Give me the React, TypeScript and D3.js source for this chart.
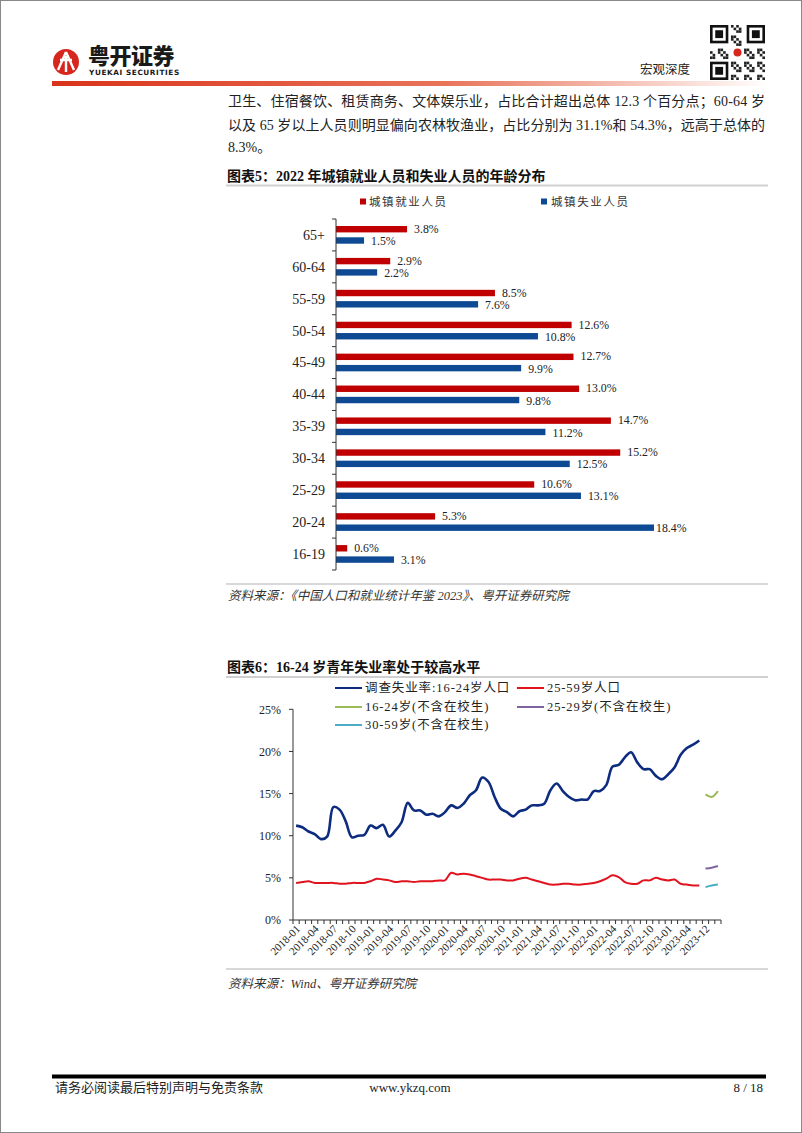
import * as d3 from 'd3';

// 图表5 数据
const ageGroups = ['65+', '60-64', '55-59', '50-54', '45-49', '40-44', '35-39', '30-34', '25-29', '20-24', '16-19'];
const employedShare = [3.8, 2.9, 8.5, 12.6, 12.7, 13.0, 14.7, 15.2, 10.6, 5.3, 0.6];
const unemployedShare = [1.5, 2.2, 7.6, 10.8, 9.9, 9.8, 11.2, 12.5, 13.1, 18.4, 3.1];

// 图表6 数据: 2018-01 ~ 2023-06, 然后 2023-12 ~ 2024-02
const months = [
  ...d3.utcMonth.range(new Date(Date.UTC(2018, 0, 1)), new Date(Date.UTC(2023, 6, 1))),
  ...d3.utcMonth.range(new Date(Date.UTC(2023, 11, 1)), new Date(Date.UTC(2024, 2, 1))),
].map(d3.utcFormat('%Y-%m'));

const xTickLabels = [
  '2018-01', '2018-04', '2018-07', '2018-10', '2019-01', '2019-04', '2019-07', '2019-10',
  '2020-01', '2020-04', '2020-07', '2020-10', '2021-01', '2021-04', '2021-07', '2021-10',
  '2022-01', '2022-04', '2022-07', '2022-10', '2023-01', '2023-04', '2023-12',
];

const youth1624 = [
  11.2, 11.0, 10.5, 10.2, 9.6, 9.9, 13.4, 13.1, 11.7, 9.8, 10.0, 10.1,
  11.2, 10.9, 11.3, 9.9, 10.6, 11.6, 13.9, 13.0, 13.0, 12.5, 12.6, 12.3,
  12.8, 13.6, 13.3, 13.8, 14.8, 15.4, 16.9, 16.4, 14.6, 13.2, 12.8, 12.3,
  12.9, 13.1, 13.6, 13.6, 13.8, 15.4, 16.2, 15.3, 14.6, 14.2, 14.3, 14.3,
  15.3, 15.3, 16.0, 18.2, 18.4, 19.3, 19.9, 18.7, 17.9, 17.9, 17.1, 16.7,
  17.3, 18.1, 19.6, 20.4, 20.8, 21.3,
];
const adult2559 = [
  4.4, 4.5, 4.6, 4.4, 4.4, 4.4, 4.4, 4.3, 4.3, 4.4, 4.4, 4.4,
  4.6, 4.9, 4.8, 4.7, 4.5, 4.6, 4.6, 4.5, 4.6, 4.6, 4.6, 4.7,
  4.7, 5.6, 5.4, 5.5, 5.4, 5.2, 5.0, 4.8, 4.8, 4.8, 4.7, 4.7,
  4.9, 5.0, 4.8, 4.6, 4.4, 4.2, 4.2, 4.3, 4.3, 4.2, 4.2, 4.3,
  4.4, 4.6, 4.9, 5.3, 5.1, 4.5, 4.3, 4.3, 4.7, 4.7, 5.0, 4.8,
  4.7, 4.8, 4.3, 4.2, 4.1, 4.1,
];
const newMonths = ['2023-12', '2024-01', '2024-02'];
const youthExStudents = [14.9, 14.6, 15.3];
const age2529ExStudents = [6.1, 6.2, 6.4];
const age3059ExStudents = [3.9, 4.1, 4.2];

const SERIF = "'Liberation Serif', 'Times New Roman', 'Noto Sans CJK SC', serif";
const CJK = "'Noto Sans CJK SC', 'Liberation Serif', serif";

const BarChart = () => {
  const y = d3.scaleBand().domain(ageGroups).range([219, 570]);
  const x = d3.scaleLinear().domain([0, 20]).range([336, 710]);
  const step = y.step();
  const barH = 6.4;
  const plotRight = 693;
  const labelW = 37;
  const ticks = d3.range(ageGroups.length + 1).map(i => 219 + i * step);

  // label sits after the bar; pulled back (on a white box) when it would pass the plot edge
  const label = (v: number, cy: number) => {
    const natural = x(v) + 7;
    const inside = natural + labelW > plotRight;
    const lx = inside ? plotRight - labelW : natural;
    return (
      <g>
        {inside && <rect x={lx - 2} y={cy - 6.5} width={labelW + 3} height={13} fill="#fff" />}
        <text x={lx} y={cy} dy="0.35em" fontSize={11.8} fontFamily={SERIF} fill="#222">{v.toFixed(1)}%</text>
      </g>
    );
  };

  return (
    <g>
      <rect x={360} y={198.5} width={6} height={6} fill="#c00000" />
      <text x={369} y={205.5} fontSize={11.5} letterSpacing={1.6} fontFamily={CJK} fill="#333">城镇就业人员</text>
      <rect x={541} y={198.5} width={6} height={6} fill="#0e4a94" />
      <text x={551} y={205.5} fontSize={11.5} letterSpacing={1.6} fontFamily={CJK} fill="#333">城镇失业人员</text>
      {ageGroups.map((g, i) => {
        const y0 = y(g)!;
        return (
          <g key={g}>
            <rect x={x(0)} y={y0 + 7} width={x(employedShare[i]) - x(0)} height={barH} fill="#c00000" />
            <rect x={x(0)} y={y0 + 18.3} width={x(unemployedShare[i]) - x(0)} height={barH} fill="#0e4a94" />
            {label(employedShare[i], y0 + 6.5 + barH / 2)}
            {label(unemployedShare[i], y0 + 18.8 + barH / 2)}
            <text x={325} y={y0 + step / 2} dy="0.35em" textAnchor="end" fontSize={14} fontFamily={SERIF} fill="#222">{g}</text>
          </g>
        );
      })}
      <line x1={336} x2={336} y1={219} y2={570} stroke="#333" strokeWidth={1} />
      {ticks.map(t => <line key={t} x1={332} x2={336} y1={t} y2={t} stroke="#333" strokeWidth={1} />)}
    </g>
  );
};

const LineChart = () => {
  const x = d3.scaleBand().domain(months).range([293, 721]);
  const y = d3.scaleLinear().domain([0, 25]).range([920, 709.3]);
  const cx = (m: string) => x(m)! + x.bandwidth() / 2;
  const line = d3.line<[string, number]>().x(d => cx(d[0])).y(d => y(d[1])).curve(d3.curveCatmullRom.alpha(0.5));
  const zipped = (vals: number[], cats: string[]) => vals.map((v, i) => [cats[i], v] as [string, number]);
  const base = months.slice(0, youth1624.length);
  const yTicks = [0, 5, 10, 15, 20, 25];
  const legend = [
    { label: '调查失业率:16-24岁人口', color: '#0d2c80', lx: 335, ly: 688 },
    { label: '25-59岁人口', color: '#e0141e', lx: 517, ly: 688 },
    { label: '16-24岁(不含在校生)', color: '#9bbb59', lx: 335, ly: 707 },
    { label: '25-29岁(不含在校生)', color: '#8064a2', lx: 517, ly: 707 },
    { label: '30-59岁(不含在校生)', color: '#4bacc6', lx: 335, ly: 725 },
  ];
  return (
    <g>
      {legend.map(l => (
        <g key={l.label}>
          <line x1={l.lx} x2={l.lx + 27} y1={l.ly} y2={l.ly} stroke={l.color} strokeWidth={2} />
          <text x={l.lx + 30} y={l.ly} dy="0.35em" fontSize={12.5} letterSpacing={0.9} fontFamily={SERIF} fill="#222">{l.label}</text>
        </g>
      ))}
      {yTicks.map(t => (
        <g key={t}>
          <line x1={289} x2={293} y1={y(t)} y2={y(t)} stroke="#333" />
          <text x={281} y={y(t)} dy="0.35em" textAnchor="end" fontSize={12} fontFamily={SERIF} fill="#222">{t}%</text>
        </g>
      ))}
      <line x1={293} x2={293} y1={y(25)} y2={y(0)} stroke="#333" />
      <line x1={293} x2={721} y1={y(0)} y2={y(0)} stroke="#333" />
      {d3.range(months.length + 1).map(i => {
        const tx = 293 + i * x.step();
        return <line key={i} x1={tx} x2={tx} y1={920} y2={924} stroke="#333" />;
      })}
      {xTickLabels.map(m => (
        <text key={m} transform={`translate(${cx(m) + 2},${927}) rotate(-45)`} textAnchor="end" dy="0.35em" fontSize={11} fontFamily={SERIF} fill="#222">{m}</text>
      ))}
      <path d={line(zipped(adult2559, base))!} fill="none" stroke="#e0141e" strokeWidth={2} />
      <path d={line(zipped(youth1624, base))!} fill="none" stroke="#0d2c80" strokeWidth={2.6} />
      <path d={line(zipped(youthExStudents, newMonths))!} fill="none" stroke="#9bbb59" strokeWidth={2} />
      <path d={line(zipped(age2529ExStudents, newMonths))!} fill="none" stroke="#8064a2" strokeWidth={2} />
      <path d={line(zipped(age3059ExStudents, newMonths))!} fill="none" stroke="#4bacc6" strokeWidth={2} />
    </g>
  );
};

const QrCode = () => {
  const cells = 21;
  const s = 55 / cells;
  const finder = (fx: number, fy: number) => (
    <g>
      <rect x={710 + fx * s} y={25 + fy * s} width={7 * s} height={7 * s} fill="#111" />
      <rect x={710 + (fx + 1) * s} y={25 + (fy + 1) * s} width={5 * s} height={5 * s} fill="#fff" />
      <rect x={710 + (fx + 2) * s} y={25 + (fy + 2) * s} width={3 * s} height={3 * s} fill="#111" />
    </g>
  );
  const blocks: [number, number][] = [];
  for (let i = 0; i < cells; i++) {
    for (let j = 0; j < cells; j++) {
      const inFinder = (i < 8 && j < 8) || (i > 12 && j < 8) || (i < 8 && j > 12);
      if (!inFinder && ((i * 7 + j * 13 + i * j) % 5 < 2)) blocks.push([i, j]);
    }
  }
  return (
    <g>
      {blocks.map(([i, j]) => <rect key={`${i}-${j}`} x={710 + i * s} y={25 + j * s} width={s} height={s} fill="#222" />)}
      {finder(0, 0)}
      {finder(14, 0)}
      {finder(0, 14)}
      <rect x={731} y={46} width={13} height={13} fill="#fff" />
      <circle cx={737.5} cy={52.5} r={4} fill="#d7261e" />
    </g>
  );
};

export default function App() {
  return (
    <svg width={802} height={1133} viewBox="0 0 802 1133" style={{ position: 'absolute', left: 0, top: 0, background: '#fff' }}>
      <defs>
        <linearGradient id="hdr" x1="0" x2="1" y1="0" y2="0">
          <stop offset="0" stopColor="#d9331a" />
          <stop offset="0.55" stopColor="#e8745a" />
          <stop offset="1" stopColor="#ffffff" />
        </linearGradient>
      </defs>
      <rect x={0.5} y={0.5} width={801} height={1132} fill="#fff" stroke="#888" />

      {/* header */}
      <circle cx={66} cy={62} r={13} fill="#d7261e" />
      <path d="M66 52 L58 70 M66 52 L74 70 M60 60 L72 60 M66 56 L66 72" stroke="#fff" strokeWidth={2.4} fill="none" />
      <text x={88} y={63.5} fontSize={22} fontWeight={900} fontFamily={CJK} fill="#1a1a1a" letterSpacing={-0.5}>粤开证券</text>
      <text x={89} y={75} fontSize={7.3} fontWeight={700} fontFamily="'DejaVu Sans', sans-serif" fill="#1a1a1a" letterSpacing={0.6}>YUEKAI SECURITIES</text>
      <text x={640} y={74} fontSize={12.5} fontFamily={CJK} fill="#222">宏观深度</text>
      <QrCode />
      <rect x={52} y={81} width={716} height={5} fill="url(#hdr)" />

      {/* body text */}
      <text x={228} y={106} fontSize={14} fontFamily={SERIF} fill="#222" textLength={537} lengthAdjust="spacing">
        卫生、住宿餐饮、租赁商务、文体娱乐业，占比合计超出总体 12.3 个百分点；60-64 岁
      </text>
      <text x={228} y={130} fontSize={14} fontFamily={SERIF} fill="#222" textLength={537} lengthAdjust="spacing">
        以及 65 岁以上人员则明显偏向农林牧渔业，占比分别为 31.1%和 54.3%，远高于总体的
      </text>
      <text x={228} y={152} fontSize={14} fontFamily={SERIF} fill="#222">8.3%。</text>

      {/* 图表5 */}
      <text x={227} y={181} fontSize={14} fontWeight={700} fontFamily={SERIF} fill="#111">图表5：2022 年城镇就业人员和失业人员的年龄分布</text>
      <line x1={226} x2={768} y1={185.5} y2={185.5} stroke="#d0d0d0" strokeWidth={2} />
      <BarChart />
      <line x1={226} x2={768} y1={584} y2={584} stroke="#d8d8d8" strokeWidth={2} />
      <text x={228} y={600} fontSize={12.5} fontStyle="italic" fontFamily={SERIF} fill="#333">资料来源：《中国人口和就业统计年鉴 2023》、粤开证券研究院</text>

      {/* 图表6 */}
      <text x={227} y={672} fontSize={14} fontWeight={700} fontFamily={SERIF} fill="#111">图表6：16-24 岁青年失业率处于较高水平</text>
      <line x1={226} x2={768} y1={677} y2={677} stroke="#d0d0d0" strokeWidth={2} />
      <LineChart />
      <line x1={226} x2={768} y1={969} y2={969} stroke="#d8d8d8" strokeWidth={2} />
      <text x={228} y={988} fontSize={12.5} fontStyle="italic" fontFamily={SERIF} fill="#333">资料来源：Wind、粤开证券研究院</text>

      {/* footer */}
      <rect x={52} y={1074.5} width={714} height={4} fill="#000" />
      <text x={55} y={1092} fontSize={13} fontFamily={SERIF} fill="#222">请务必阅读最后特别声明与免责条款</text>
      <text x={410} y={1092} textAnchor="middle" fontSize={13} fontFamily={SERIF} fill="#222">www.ykzq.com</text>
      <text x={763} y={1092} textAnchor="end" fontSize={13} fontFamily={SERIF} fill="#222">8 / 18</text>
    </svg>
  );
}
